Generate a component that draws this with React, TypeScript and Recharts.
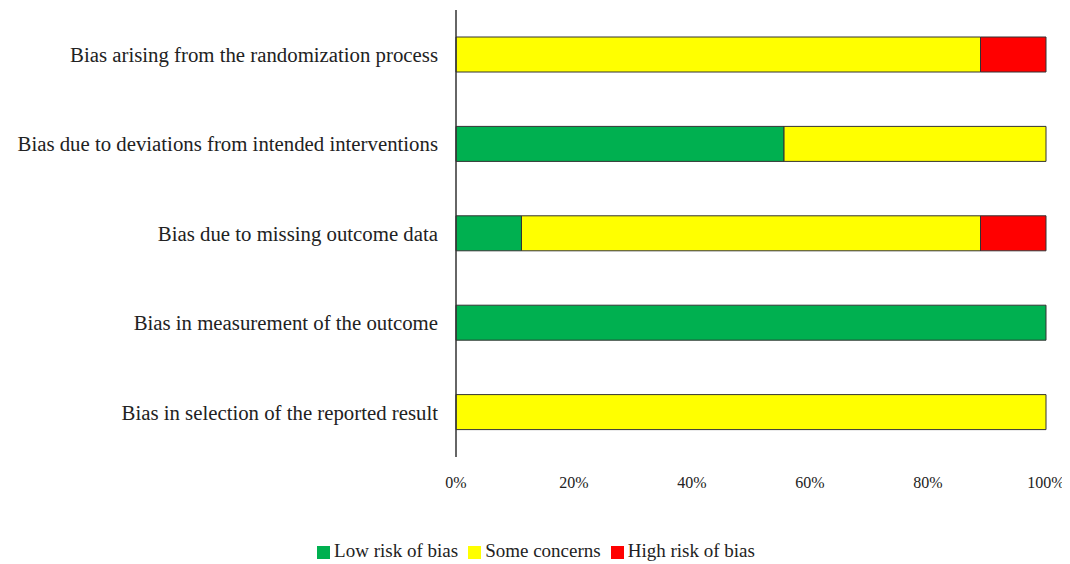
import React from 'react';
import { BarChart, Bar, XAxis, YAxis, Legend } from 'recharts';

const domains = [
  'Bias arising from the randomization process',
  'Bias due to deviations from intended interventions',
  'Bias due to missing outcome data',
  'Bias in measurement of the outcome',
  'Bias in selection of the reported result',
];
const lowRisk = [0, 55.6, 11.1, 100, 0];
const someConcerns = [88.9, 44.4, 77.8, 0, 100];
const highRisk = [11.1, 0, 11.1, 0, 0];
const xTicks = [0, 20, 40, 60, 80, 100];
const legendOrder = ['low', 'some', 'high'];

const data = domains.map((name, i) => ({
  name,
  low: lowRisk[i],
  some: someConcerns[i],
  high: highRisk[i],
}));

const font = '"Liberation Serif", "Times New Roman", serif';

const App: React.FC = () => {
  return (
    <div style={{ fontFamily: font }}>
      <BarChart
        width={1062}
        height={556}
        data={data}
        layout="vertical"
        margin={{ top: 2, right: 24, left: 0, bottom: 55 }}
        barCategoryGap={0}
        style={{ overflow: 'visible' }}
      >
        <XAxis
          type="number"
          domain={[0, 100]}
          ticks={xTicks}
          tickFormatter={(v) => `${v}%`}
          axisLine={false}
          tickLine={false}
          height={30}
          tick={{ fill: '#222', fontSize: 16, fontFamily: font }}
          dy={12}
        />
        <YAxis
          type="category"
          dataKey="name"
          width={448}
          axisLine={{ stroke: '#333', strokeWidth: 1.5 }}
          tickLine={false}
          tick={{ fill: '#222', fontSize: 20.8, fontFamily: font }}
          tickMargin={12}
        />
        <Legend
          verticalAlign="bottom"
          align="center"
          iconType="square"
          iconSize={13}
          itemSorter={(item: any) => legendOrder.indexOf(String(item.dataKey))}
          wrapperStyle={{ bottom: 2, left: 14, fontSize: 19, color: '#222' }}
          formatter={(v) => <span style={{ color: '#222' }}>{v}</span>}
        />
        <Bar dataKey="low" name="Low risk of bias" stackId="a" fill="#00b050" stroke="#333" strokeWidth={1} barSize={35} isAnimationActive={false} />
        <Bar dataKey="some" name="Some concerns" stackId="a" fill="#ffff00" stroke="#333" strokeWidth={1} barSize={35} isAnimationActive={false} />
        <Bar dataKey="high" name="High risk of bias" stackId="a" fill="#ff0000" stroke="#333" strokeWidth={1} barSize={35} isAnimationActive={false} />
      </BarChart>
    </div>
  );
};

export default App;
